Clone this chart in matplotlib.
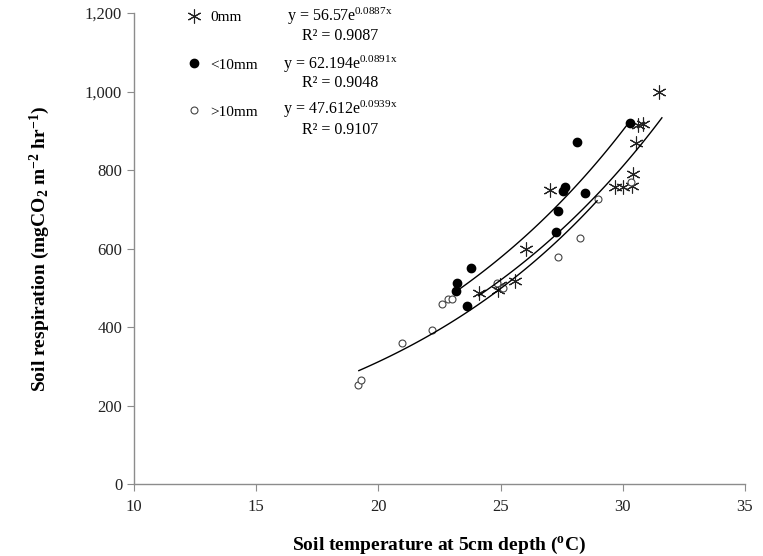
import numpy as np
import matplotlib
matplotlib.use("Agg")
import matplotlib.pyplot as plt
from matplotlib.ticker import FuncFormatter

plt.rcParams['font.family'] = ['Liberation Serif', 'DejaVu Serif']
plt.rcParams['mathtext.fontset'] = 'custom'
plt.rcParams['mathtext.rm'] = 'Liberation Serif'
plt.rcParams['mathtext.it'] = 'Liberation Serif'

# 0mm (asterisks)
x_0mm = [31.5, 30.63, 30.81, 30.53, 30.43, 29.68, 30.02, 30.36, 27.02, 26.06, 25.59, 24.98, 24.9, 24.13]
y_0mm = [1000, 915, 917, 870, 790, 757, 757, 759, 749, 598, 518, 508, 495, 487]

# <10mm (filled dots)
x_lt10 = [30.3, 28.14, 27.64, 27.54, 28.45, 27.36, 27.27, 23.77, 23.23, 23.18, 23.61]
y_lt10 = [919, 871, 757, 747, 742, 696, 641, 550, 511, 492, 453]

# >10mm (open circles)
x_gt10 = [19.18, 19.29, 20.95, 22.18, 22.62, 22.86, 23.03, 24.84, 25.11, 27.33, 28.25, 28.97, 30.35]
y_gt10 = [252, 265, 358, 392, 459, 471, 471, 511, 500, 578, 628, 725, 770]

# exponential fits y = a*exp(b*x), with the x range each line covers
fit_a = [56.57, 62.194, 47.612]
fit_b = [0.0887, 0.0891, 0.0939]
fit_range = [(24.1, 31.6), (23.2, 30.3), (19.2, 28.95)]
eq_lines = ["y = 56.57e$^{0.0887x}$", "y = 62.194e$^{0.0891x}$", "y = 47.612e$^{0.0939x}$"]
r2_lines = ["R² = 0.9087", "R² = 0.9048", "R² = 0.9107"]

fig = plt.figure(figsize=(7.63, 5.56), dpi=100)
ax = fig.add_axes([0.1756, 0.1295, 0.8008, 0.8471])

ax.plot(x_0mm, y_0mm, linestyle='none', marker=(6, 2, 0), markersize=10,
        markeredgecolor='#222222', markeredgewidth=0.8, label='0mm')
ax.plot(x_lt10, y_lt10, linestyle='none', marker='o', markersize=6,
        color='black', label='<10mm')
ax.plot(x_gt10, y_gt10, linestyle='none', marker='o', markersize=5,
        markerfacecolor='white', markeredgecolor='#444444', markeredgewidth=0.8,
        label='>10mm')

for a, b, (lo, hi) in zip(fit_a, fit_b, fit_range):
    xs = np.linspace(lo, hi, 100)
    ax.plot(xs, a * np.exp(b * xs), color='black', lw=1.0)

ax.set_xlim(10, 35)
ax.set_ylim(0, 1200)
ax.set_xticks(range(10, 36, 5))
ax.set_yticks(range(0, 1201, 200))
ax.yaxis.set_major_formatter(FuncFormatter(lambda v, p: f"{int(v):,}"))

for s in ['top', 'right']:
    ax.spines[s].set_visible(False)
for s in ['left', 'bottom']:
    ax.spines[s].set_color('#8c8c8c')
    ax.spines[s].set_linewidth(1.0)
ax.tick_params(axis='both', direction='out', length=5, color='#8c8c8c',
               labelsize=12, labelcolor='#222222')
ax.tick_params(axis='x', pad=6)

ax.set_xlabel('Soil temperature at 5cm depth ($\\mathregular{^o}$C)',
              fontsize=14, fontweight='bold', labelpad=14)
ax.set_ylabel('Soil respiration (mgCO$_\\mathregular{2}$ m$^\\mathregular{-2}$ hr$^\\mathregular{-1}$)',
              fontsize=14, fontweight='bold', labelpad=24)

leg = ax.legend(loc='upper left', bbox_to_anchor=(0.065, 1.028), frameon=False,
                fontsize=11, labelspacing=2.2, handletextpad=0.5,
                handlelength=1.2, borderpad=0.2)

eq_y = [0.983, 0.881, 0.785]
r2_y = [0.942, 0.842, 0.744]
for eq, r2, ye, yr in zip(eq_lines, r2_lines, eq_y, r2_y):
    ax.text(0.337, ye, eq, transform=ax.transAxes, ha='center', va='baseline',
            fontsize=11.5)
    ax.text(0.337, yr, r2, transform=ax.transAxes, ha='center', va='baseline',
            fontsize=11.5)

fig.savefig('out.png', dpi=100)
